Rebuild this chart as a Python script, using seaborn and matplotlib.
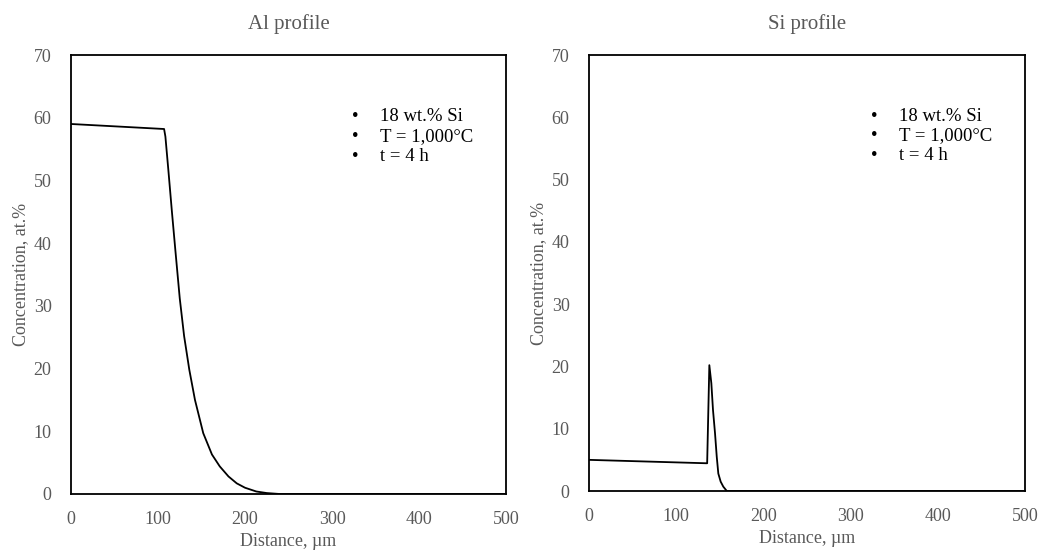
import matplotlib
matplotlib.use("Agg")
import matplotlib.pyplot as plt
import seaborn as sns
import pandas as pd

# Aluminium concentration profile
al_distance = [0, 107, 108.5, 112, 116, 120, 125, 130, 136, 142.5, 152, 162, 171, 181, 190.5, 200, 213, 225, 240, 500]
al_conc = [59.0, 58.2, 57.0, 51.5, 45.0, 38.8, 31.2, 25.2, 19.8, 15.0, 9.7, 6.3, 4.4, 2.8, 1.7, 1.0, 0.4, 0.15, 0.0, 0.0]

# Silicon concentration profile
si_distance = [0, 135.5, 138, 140.3, 142.2, 144.5, 146.5, 148.3, 151, 154, 158, 500]
si_conc = [5.0, 4.45, 20.2, 17.3, 13.0, 9.3, 5.5, 2.8, 1.5, 0.7, 0.0, 0.0]

conditions = ["18 wt.% Si", "T = 1,000\u00b0C", "t = 4 h"]
titles = ["Al profile", "Si profile"]
x_ticks = [0, 100, 200, 300, 400, 500]
y_ticks = [0, 10, 20, 30, 40, 50, 60, 70]

sns.set_theme(style="white")
plt.rcParams["font.family"] = ["Liberation Serif", "DejaVu Serif"]

fig = plt.figure(figsize=(10.48, 5.57), dpi=100)
ax_al = fig.add_axes([71 / 1048, 1 - 494 / 557, 435 / 1048, 439 / 557])
ax_si = fig.add_axes([589 / 1048, 1 - 491 / 557, 436 / 1048, 436 / 557])

profiles = [
    (ax_al, pd.DataFrame({"Distance": al_distance, "Conc": al_conc})),
    (ax_si, pd.DataFrame({"Distance": si_distance, "Conc": si_conc})),
]

text_gray = "#595959"
for (ax, df), title in zip(profiles, titles):
    sns.lineplot(data=df, x="Distance", y="Conc", ax=ax, color="black", linewidth=1.3,
                 estimator=None, sort=False)
    ax.set_xlim(0, 500)
    ax.set_ylim(0, 70)
    ax.set_xticks(x_ticks)
    ax.set_yticks(y_ticks)
    ax.tick_params(axis="both", length=0, labelsize=13, labelcolor=text_gray)
    ax.tick_params(axis="x", pad=12)
    ax.tick_params(axis="y", pad=14)
    for s in ax.spines.values():
        s.set_color("black")
        s.set_linewidth(1.3)
    ax.set_xlabel("Distance, \u00b5m", fontsize=13, color=text_gray, labelpad=4)
    ax.set_ylabel("Concentration, at.%", fontsize=13, color=text_gray, labelpad=3)
    ax.set_title(title, fontsize=15, color=text_gray, pad=19)
    for i, line in enumerate(conditions):
        yv = 60.2 - i * 3.2
        ax.text(323, yv, "\u2022", fontsize=13.5, color="black", va="center", ha="left")
        ax.text(355, yv, line, fontsize=13.5, color="black", va="center", ha="left")

fig.savefig("out.png", dpi=100, facecolor="white")
